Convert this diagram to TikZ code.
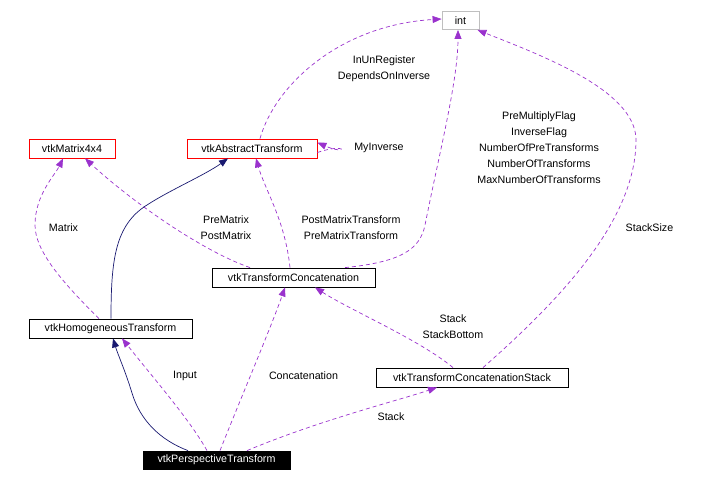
\documentclass[tikz,border=0pt]{standalone}
\usepackage{fontspec}
\setmainfont{Liberation Sans}
\usetikzlibrary{arrows.meta}
\definecolor{dep}{HTML}{9A32CD}
\definecolor{inh}{HTML}{191970}
\definecolor{boxgray}{HTML}{BFBFBF}

\begin{document}
\begin{tikzpicture}[x=1pt,y=-1pt,
  font=\fontsize{10.7}{16}\selectfont,
  box/.style={draw,rectangle,inner sep=0pt,minimum height=19pt,line width=0.8pt},
  redbox/.style={box,draw=red},
  lbl/.style={align=center,inner sep=0pt},
  use/.style={dep,line width=0.7pt,dash pattern=on 4pt off 3pt,-{Triangle[length=9pt,width=7pt]}},
  inherit/.style={inh,line width=0.7pt,-{Triangle[length=9pt,width=7pt]}}]
\useasboundingbox (0,0) rectangle (722,482);
\node[box,draw=boxgray,minimum width=37pt,minimum height=18pt] (int) at (460.5,20.5) {int};
\node[redbox,minimum width=130pt] (abs) at (252,148.5) {vtkAbstractTransform};
\node[redbox,minimum width=86pt] (mat) at (72,148.5) {vtkMatrix4x4};
\node[box,minimum width=163pt] (conc) at (293.5,277.5) {vtkTransformConcatenation};
\node[box,minimum width=163pt] (homog) at (110.5,328.5) {vtkHomogeneousTransform};
\node[box,minimum width=192pt] (stack) at (472,377.5) {vtkTransformConcatenationStack};
\node[box,fill=black,text=white,minimum width=147pt,minimum height=18pt] (persp) at (216.5,460) {vtkPerspectiveTransform};
\coordinate (bend1) at (425,225);
\coordinate (bend2) at (636,140);
\coordinate (bend3) at (35,225);
\coordinate (bend4) at (147,205);
\coordinate (bend5) at (132,393);
\draw[use] ([xshift=8]abs.north) .. controls (275,85) and (340,25) .. ([yshift=1.5]int.west);
\draw[use] ([xshift=51.5]conc.north) .. controls (400,262) and (420,250) .. (bend1)
  .. controls (440,150) and (458,80) .. ([xshift=-2.5]int.south);
\draw[use] ([xshift=11]stack.north) .. controls (560,300) and (636,220) .. (bend2)
  .. controls (636,90) and (540,55) .. ([xshift=-2]int.south east);
\draw[use] ([yshift=-4]abs.east) .. controls (348,142) and (348,156) .. ([yshift=6]abs.east);
\draw[use] ([xshift=-11.5]homog.north) .. controls (60,280) and (35,250) .. (bend3)
  .. controls (35,195) and (55,175) .. ([xshift=-9]mat.south);
\draw[use] ([xshift=-43.5]conc.north) .. controls (200,250) and (130,200) .. ([xshift=13]mat.south);
\draw[use] ([xshift=-3.5]conc.north) .. controls (285,220) and (265,190) .. ([xshift=4]abs.south);
\draw[inherit] ([xshift=0.5]homog.north) .. controls (111,260) and (115,225) .. (bend4)
  .. controls (170,190) and (205,175) .. ([xshift=-24]abs.south);
\draw[inherit] ([xshift=-28.5]persp.north) .. controls (160,440) and (140,420) .. (bend5)
  .. controls (125,370) and (118,355) .. ([xshift=2.5]homog.south);
\draw[use] ([xshift=-9.5]persp.north) .. controls (190,420) and (155,380) .. ([xshift=11.5]homog.south);
\draw[use] ([xshift=3.5]persp.north) .. controls (240,400) and (270,330) .. ([xshift=-8.5]conc.south);
\draw[use] ([xshift=30.5]persp.north) .. controls (320,420) and (400,400) .. ([xshift=-35]stack.south);
\draw[use] ([xshift=-19]stack.north) .. controls (420,340) and (350,310) .. ([xshift=21.5]conc.south);
\node[lbl] (lregister) at (384,68.5) {InUnRegister\\DependsOnInverse};
\node[lbl] (linverse) at (379,148) {MyInverse};
\node[lbl] (lflags) at (539,148) {PreMultiplyFlag\\InverseFlag\\NumberOfPreTransforms\\NumberOfTransforms\\MaxNumberOfTransforms};
\node[lbl] (lstacksize) at (649.5,228) {StackSize};
\node[lbl] (lmattrans) at (351,228) {PostMatrixTransform\\PreMatrixTransform};
\node[lbl] (lprepost) at (226,228) {PreMatrix\\PostMatrix};
\node[lbl] (lmatrix) at (63.5,228) {Matrix};
\node[lbl] (lbottom) at (453,327) {Stack\\StackBottom};
\node[lbl] (linput) at (185,376) {Input};
\node[lbl] (lconc) at (303.5,376) {Concatenation};
\node[lbl] (lstack) at (391,417) {Stack};
\end{tikzpicture}
\end{document}
